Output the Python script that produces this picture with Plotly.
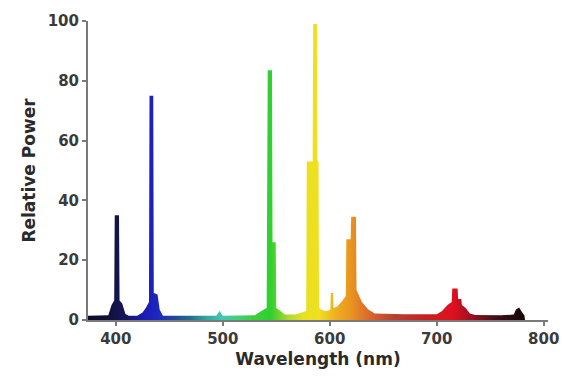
import plotly.graph_objects as go

# Emission spectrum of a tri-phosphor fluorescent lamp (relative power vs wavelength)
wavelength_nm = [
    374, 393, 396, 398.5, 399, 403, 403.5, 406, 409, 412,
    420, 425, 428, 431, 431.5, 435, 435.5, 439, 441, 444,
    494, 497, 500,
    530, 536, 541, 542, 546, 546.5, 549.5, 550, 554, 558,
    568, 574, 578, 578.5, 584, 584.5, 588, 588.5, 589.5, 590, 595,
    598, 600.5, 601, 603, 603.5, 607,
    612, 615, 615.5, 619.5, 620, 624.5, 625, 630, 636, 642,
    670, 700, 705, 710, 714, 714.5, 719.5, 720, 723, 723.5, 727, 731, 736,
    760, 772, 774, 777, 779, 782, 782.5,
]
relative_power = [
    1.4, 1.6, 5, 6.5, 35, 35, 6.5, 5.5, 2, 1.4,
    1.4, 2.5, 4, 6, 75, 75, 9, 8.5, 3.5, 1.4,
    1.4, 3, 1.4,
    1.6, 3, 4, 83.5, 83.5, 26, 26, 4, 3, 1.8,
    1.8, 2.5, 3, 53, 53, 99, 99, 53, 53, 4, 3,
    3, 3.5, 9, 9, 4, 4.5,
    6.5, 8, 27, 27, 34.5, 34.5, 10, 6, 3.5, 2.2,
    1.9, 1.9, 3, 5, 6, 10.5, 10.5, 7, 7, 5, 4, 2.2, 1.7,
    1.6, 1.8, 3.5, 4.2, 3, 1.5, 0,
]

# Approximate visible-light colours used to shade the area under the curve
color_stop_nm = [374, 395, 410, 425, 440, 455, 470, 485, 500, 515, 530, 545,
                 560, 575, 590, 605, 620, 640, 660, 690, 715, 735, 755, 784]
color_stop_rgb = ['#0a0a28', '#12123c', '#161660', '#1a1ab4', '#1c28c0', '#1e4a9a',
                  '#22708c', '#30a8a0', '#44c8b4', '#40d070', '#38d038', '#30d030',
                  '#a8d830', '#e8e020', '#f0e020', '#f0b020', '#e89420', '#d86030',
                  '#b84030', '#c82020', '#e01020', '#901020', '#401018', '#100808']

x_tick_vals = [400, 500, 600, 700, 800]
y_tick_vals = [0, 20, 40, 60, 80, 100]

span = color_stop_nm[-1] - color_stop_nm[0]
colorscale = [[(w - color_stop_nm[0]) / span, c] for w, c in zip(color_stop_nm, color_stop_rgb)]

fig = go.Figure()
fig.add_trace(go.Scatter(
    x=wavelength_nm,
    y=relative_power,
    mode='none',
    fill='tozeroy',
    fillgradient=dict(type='horizontal', colorscale=colorscale,
                      start=color_stop_nm[0], stop=color_stop_nm[-1]),
    hoverinfo='x+y',
    showlegend=False,
))

axis_font = dict(family='DejaVu Sans', size=15, color='#3a3a3a')
title_font = dict(family='DejaVu Sans', size=17, color='#2a2a2a')

fig.update_layout(
    width=584, height=378,
    margin=dict(l=88, r=36, t=17, b=58),
    paper_bgcolor='white', plot_bgcolor='white',
    font=dict(family='DejaVu Sans'),
    xaxis=dict(
        range=[374, 804], tickvals=x_tick_vals,
        ticktext=[f'<b>{v}</b>' for v in x_tick_vals],
        showgrid=False, zeroline=False, showline=True,
        linecolor='#7a7a7a', linewidth=2, ticks='outside', ticklen=4,
        tickcolor='#7a7a7a', tickwidth=1.5, tickfont=axis_font,
        layer='below traces',
        title=dict(text='<b>Wavelength (nm)</b>', font=title_font, standoff=6),
    ),
    yaxis=dict(
        range=[0, 100], tickvals=y_tick_vals,
        ticktext=[f'<b>{v}</b>' for v in y_tick_vals],
        showgrid=False, zeroline=False, showline=True,
        linecolor='#7a7a7a', linewidth=2, ticks='outside', ticklen=4,
        tickcolor='#7a7a7a', tickwidth=1.5, tickfont=axis_font,
        title=dict(text='<b>Relative Power</b>', font=title_font, standoff=8),
    ),
)

fig.write_html('out.html')
